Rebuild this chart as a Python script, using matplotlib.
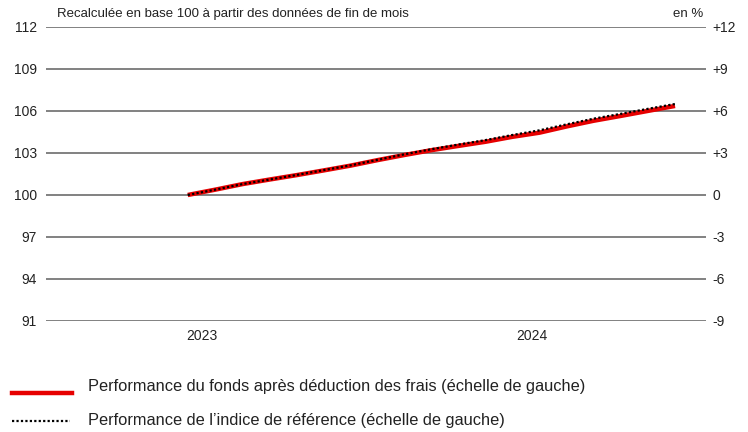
import numpy as np
import pandas as pd
import matplotlib
matplotlib.use("Agg")
import matplotlib.pyplot as plt
from matplotlib.lines import Line2D

plt.rcParams['font.family'] = ['Liberation Sans', 'DejaVu Sans']

# month-end data points
dates = pd.date_range("2023-06-30", "2024-12-31", freq="ME")
fonds = [100, 100.38, 100.78, 101.1, 101.42, 101.75, 102.1, 102.5, 102.85, 103.2,
         103.5, 103.8, 104.15, 104.45, 104.9, 105.3, 105.65, 106.0, 106.36]
indice = [100, 100.38, 100.78, 101.1, 101.43, 101.77, 102.12, 102.52, 102.9, 103.27,
          103.6, 103.92, 104.28, 104.62, 105.05, 105.45, 105.8, 106.15, 106.5]
left_ticks = [91, 94, 97, 100, 103, 106, 109, 112]
right_labels = ["-9", "-6", "-3", "0", "+3", "+6", "+9", "+12"]
years = ["2023", "2024"]
year_pos = pd.to_datetime(["2023-07-16", "2024-07-22"])

fig = plt.figure(figsize=(7.48, 4.32), dpi=100)
ax = fig.add_axes([0.0615, 0.257, 0.8824, 0.6805])

for v in left_ticks:
    ax.axhline(v, color="#777777", lw=1.3, zorder=1)

ax.plot(dates, fonds, color="#e60000", lw=3.2, solid_capstyle="butt", zorder=3)
ax.plot(dates, indice, color="black", lw=1.6, linestyle=(0, (1, 1)), zorder=4)

ax.set_ylim(91, 112)
ax.set_xlim(pd.Timestamp("2023-01-21"), pd.Timestamp("2025-02-04"))
ax.set_yticks(left_ticks)
ax.set_yticklabels([str(v) for v in left_ticks])
ax.set_xticks(year_pos)
ax.set_xticklabels(years)
ax.tick_params(length=0, labelsize=10, colors="#222222", pad=6.5)
ax.tick_params(axis="x", pad=6)

ax2 = ax.twinx()
ax2.set_ylim(91, 112)
ax2.set_yticks(left_ticks)
ax2.set_yticklabels(right_labels)
ax2.tick_params(length=0, labelsize=10, colors="#222222", pad=4.5)

for a in (ax, ax2):
    for s in a.spines.values():
        s.set_visible(False)

fig.text(57 / 748, 1 - 14 / 432, "Recalculée en base 100 à partir des données de fin de mois",
         fontsize=9.5, color="#222222", va="center", ha="left")
fig.text(703 / 748, 1 - 14 / 432, "en %", fontsize=9.5, color="#222222", va="center", ha="right")

# legend
fig.add_artist(Line2D([12 / 748, 72 / 748], [1 - 393 / 432] * 2, color="#e60000", lw=3.2,
                      transform=fig.transFigure))
fig.add_artist(Line2D([12 / 748, 70 / 748], [1 - 421 / 432] * 2, color="black", lw=1.6,
                      linestyle=(0, (1, 1)), transform=fig.transFigure))
fig.text(88 / 748, 1 - 386 / 432, "Performance du fonds après déduction des frais (échelle de gauche)",
         fontsize=11.8, color="#222222", va="center")
fig.text(88 / 748, 1 - 421 / 432, "Performance de l\u2019indice de référence (échelle de gauche)",
         fontsize=11.8, color="#222222", va="center")

fig.savefig("out.png", dpi=100)
